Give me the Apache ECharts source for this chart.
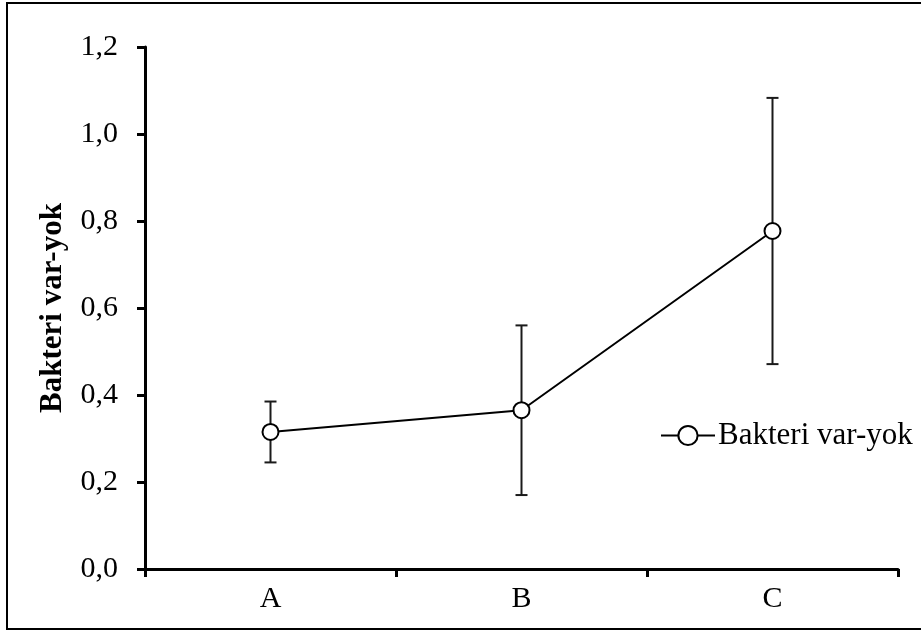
<!DOCTYPE html>
<html>
<head>
<meta charset="utf-8">
<script src="https://cdn.jsdelivr.net/npm/echarts@6/dist/echarts.min.js"></script>
<style>
  html, body { margin: 0; padding: 0; background: #fff; }
  #chart { width: 921px; height: 632px; }
</style>
</head>
<body>
<div id="chart"></div>
<script>
// Group labels on the x axis
const categories = ['A', 'B', 'C'];
// Mean presence/absence score per group
const means = [0.315, 0.365, 0.777];
// Half-width of each error bar
const errors = [0.07, 0.195, 0.306];
// Axis range and step
const yMin = 0;
const yMax = 1.2;
const yStep = 0.2;
const seriesName = 'Bakteri var-yok';

const font = 'Liberation Serif, Times New Roman, serif';

const errorData = categories.map((c, i) => [i, means[i] - errors[i], means[i] + errors[i]]);

const chart = echarts.init(document.getElementById('chart'), null, { renderer: 'canvas' });

chart.setOption({
  animation: false,
  backgroundColor: '#fff',
  grid: { left: 145, right: 23, top: 47, bottom: 63, containLabel: false },
  legend: {
    data: [{ name: seriesName }],
    left: 655,
    top: 415,
    itemWidth: 54,
    itemHeight: 24,
    itemGap: 6,
    textStyle: { fontFamily: font, fontSize: 31, color: '#000', padding: [0, 0, 0, -2] }
  },
  xAxis: {
    type: 'category',
    data: categories,
    boundaryGap: true,
    axisLine: { lineStyle: { color: '#000', width: 3 } },
    axisTick: { show: true, inside: false, length: 8, alignWithLabel: false, lineStyle: { color: '#000', width: 3 } },
    axisLabel: { fontFamily: font, fontSize: 30, color: '#000', margin: 15 },
    splitLine: { show: false }
  },
  yAxis: {
    type: 'value',
    min: yMin,
    max: yMax,
    interval: yStep,
    name: seriesName,
    nameLocation: 'middle',
    nameGap: 77,
    nameRotate: 90,
    nameTextStyle: { fontFamily: font, fontSize: 31, fontWeight: 'bold', color: '#000' },
    axisLine: { show: true, lineStyle: { color: '#000', width: 3 } },
    axisTick: { show: true, inside: false, length: 8, lineStyle: { color: '#000', width: 3 } },
    axisLabel: {
      fontFamily: font, fontSize: 30, color: '#000', margin: 27,
      formatter: v => v.toFixed(1).replace('.', ',')
    },
    splitLine: { show: false }
  },
  graphic: [{
    type: 'rect',
    shape: { x: 7, y: 3, width: 930, height: 626 },
    style: { fill: 'none', stroke: '#000', lineWidth: 2 },
    silent: true,
    z: -1
  }],
  series: [
    {
      type: 'custom',
      name: 'err',
      data: errorData,
      z: 2,
      renderItem: function (params, api) {
        const x = api.value(0);
        const lo = api.coord([x, api.value(1)]);
        const hi = api.coord([x, api.value(2)]);
        const half = 6;
        const style = { stroke: '#1a1a1a', lineWidth: 2, fill: 'none' };
        return {
          type: 'group',
          children: [
            { type: 'line', shape: { x1: lo[0], y1: lo[1], x2: hi[0], y2: hi[1] }, style },
            { type: 'line', shape: { x1: hi[0] - half, y1: hi[1], x2: hi[0] + half, y2: hi[1] }, style },
            { type: 'line', shape: { x1: lo[0] - half, y1: lo[1], x2: lo[0] + half, y2: lo[1] }, style }
          ]
        };
      }
    },
    {
      type: 'line',
      name: seriesName,
      data: means,
      z: 5,
      symbol: 'circle',
      symbolSize: 16,
      showAllSymbol: true,
      lineStyle: { color: '#000', width: 2 },
      itemStyle: { color: '#fff', borderColor: '#000', borderWidth: 2 }
    }
  ]
});
</script>
</body>
</html>
